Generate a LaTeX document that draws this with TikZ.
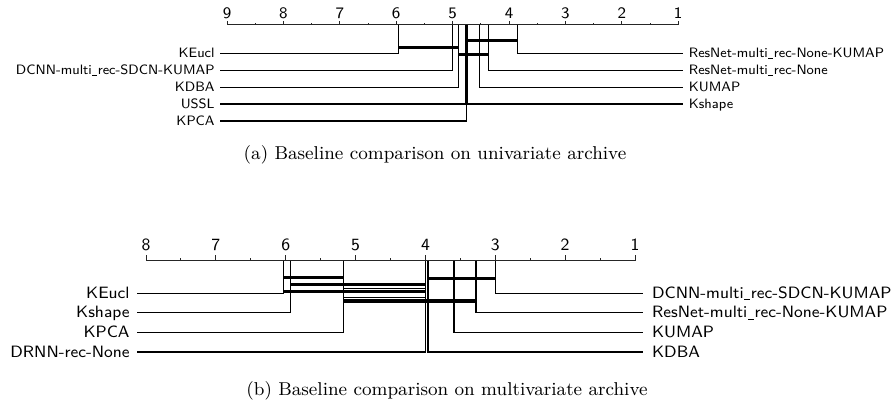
\documentclass[tikz,border=0pt]{standalone}
\newcommand{\usc}{\kern0.04em\rule[-0.12em]{0.36em}{0.05em}\kern0.04em}
\begin{document}
\begin{tikzpicture}[x=0.5pt,y=-0.5pt,
  axisline/.style={line width=0.45pt, draw=black!85},
  tickmark/.style={line width=0.45pt, draw=black!85},
  rowline/.style={line width=0.75pt},
  clique/.style={line width=1.7pt},
  thinclique/.style={line width=0.5pt},
  numA/.style={font=\sffamily\fontsize{8}{9}\selectfont, inner sep=0pt, anchor=base},
  numB/.style={font=\sffamily\fontsize{8.6}{10}\selectfont, inner sep=0pt, anchor=base},
  lblAL/.style={font=\sffamily\fontsize{6.8}{8}\selectfont, inner sep=0pt, anchor=base east},
  lblAR/.style={font=\sffamily\fontsize{6.8}{8}\selectfont, inner sep=0pt, anchor=base west},
  lblBL/.style={font=\sffamily\fontsize{8.2}{9}\selectfont, inner sep=0pt, anchor=base east},
  lblBR/.style={font=\sffamily\fontsize{8.2}{9}\selectfont, inner sep=0pt, anchor=base west},
  caption/.style={font=\rmfamily\fontsize{9.3}{11}\selectfont, inner sep=0pt}
]
\useasboundingbox (0,0) rectangle (893,412);

% ================= (a) =================
\coordinate (axA1) at (227,24.5);
\coordinate (axA2) at (678.2,24.5);
\draw[axisline] (axA1) -- (axA2);
\foreach \i in {0,...,8}{
  \pgfmathsetmacro{\xx}{227+\i*56.4}
  \pgfmathtruncatemacro{\lab}{9-\i}
  \coordinate (tka\i) at (\xx,24.5);
  \coordinate (tkat\i) at (\xx,21);
  \draw[tickmark] (tka\i) -- (tkat\i);
  \node[numA] (nua\i) at (\xx,18.3) {\lab};
}
\foreach \i in {0,...,7}{
  \pgfmathsetmacro{\xx}{227+28.2+\i*56.4}
  \coordinate (hka\i) at (\xx,24.5);
  \coordinate (hkat\i) at (\xx,22.8);
  \draw[tickmark] (hka\i) -- (hkat\i);
}

% left methods
\node[lblAL] (laKEucl) at (215,57.5) {KEucl};
\node[lblAL] (laDCNN) at (215,74.5) {DCNN-multi\usc rec-SDCN-KUMAP};
\node[lblAL] (laKDBA) at (215,91.5) {KDBA};
\node[lblAL] (laUSSL) at (215,108.2) {USSL};
\node[lblAL] (laKPCA) at (215,125) {KPCA};
% right methods
\node[lblAR] (raRNK) at (688.5,57.5) {ResNet-multi\usc rec-None-KUMAP};
\node[lblAR] (raRNN) at (688.5,74.5) {ResNet-multi\usc rec-None};
\node[lblAR] (raKUMAP) at (688.5,91.5) {KUMAP};
\node[lblAR] (raKshape) at (688.5,108.2) {Kshape};

% vertical tops and row ends
\coordinate (vaKEucl) at (398.3,24.5);  \coordinate (eaKEucl) at (220,53.5);
\coordinate (vaDCNN) at (452.3,24.5);   \coordinate (eaDCNN) at (220,70.5);
\coordinate (vaKDBA) at (458.3,24.5);   \coordinate (eaKDBA) at (220,87.5);
\coordinate (vaUSSL) at (466.2,24.5);   \coordinate (eaUSSL) at (220,104.2);
\coordinate (vaKPCA) at (466.7,24.5);   \coordinate (eaKPCA) at (220,121);
\coordinate (vaRNK) at (517.7,24.5);    \coordinate (eaRNK) at (683,53.5);
\coordinate (vaRNN) at (488.7,24.5);    \coordinate (eaRNN) at (683,70.5);
\coordinate (vaKUMAP) at (479.7,24.5);  \coordinate (eaKUMAP) at (683,87.5);
\coordinate (vaKshape) at (467.4,24.5); \coordinate (eaKshape) at (683,104.2);

\foreach \m in {KEucl,DCNN,KDBA,USSL,KPCA,RNK,RNN,KUMAP,Kshape}{
  \draw[rowline] (va\m) |- (ea\m);
}

% cliques (a)
\coordinate (ca1s) at (466.2,40.5); \coordinate (ca1e) at (517.7,40.5);
\coordinate (ca2s) at (398.3,47.5); \coordinate (ca2e) at (458.3,47.5);
\coordinate (ca3s) at (458.3,54.5); \coordinate (ca3e) at (488.7,54.5);
\draw[clique] (ca1s) -- (ca1e);
\draw[clique] (ca2s) -- (ca2e);
\draw[clique] (ca3s) -- (ca3e);

\node[caption] (capA) at (435,155) {(a) Baseline comparison on univariate archive};

% ================= (b) =================
\coordinate (axB1) at (146,260.5);
\coordinate (axB2) at (635,260.5);
\draw[axisline] (axB1) -- (axB2);
\foreach \i in {0,...,7}{
  \pgfmathsetmacro{\xx}{146+\i*69.857}
  \pgfmathtruncatemacro{\lab}{8-\i}
  \coordinate (tkb\i) at (\xx,260.5);
  \coordinate (tkbt\i) at (\xx,255.2);
  \draw[tickmark] (tkb\i) -- (tkbt\i);
  \node[numB] (nub\i) at (\xx,250) {\lab};
}
\foreach \i in {0,...,6}{
  \pgfmathsetmacro{\xx}{146+34.93+\i*69.857}
  \coordinate (hkb\i) at (\xx,260.5);
  \coordinate (hkbt\i) at (\xx,257.8);
  \draw[tickmark] (hkb\i) -- (hkbt\i);
}

\node[lblBL] (lbKEucl) at (130,298.3) {KEucl};
\node[lblBL] (lbKshape) at (130,317.7) {Kshape};
\node[lblBL] (lbKPCA) at (130,337.3) {KPCA};
\node[lblBL] (lbDRNN) at (130,357.2) {DRNN-rec-None};
\node[lblBR] (rbDCNN) at (651.7,298.3) {DCNN-multi\usc rec-SDCN-KUMAP};
\node[lblBR] (rbRN) at (651.7,317.7) {ResNet-multi\usc rec-None-KUMAP};
\node[lblBR] (rbKUMAP) at (651.7,337.3) {KUMAP};
\node[lblBR] (rbKDBA) at (651.7,357.2) {KDBA};

\coordinate (vbKEucl) at (283.5,260.5);  \coordinate (ebKEucl) at (136.7,293.3);
\coordinate (vbKshape) at (290.5,260.5); \coordinate (ebKshape) at (136.7,312.7);
\coordinate (vbKPCA) at (343.3,260.5);   \coordinate (ebKPCA) at (136.7,332.3);
\coordinate (vbDRNN) at (425.5,260.5);   \coordinate (ebDRNN) at (136.7,352.2);
\coordinate (vbDCNN) at (495.3,260.5);   \coordinate (ebDCNN) at (643,293.3);
\coordinate (vbRN) at (475.8,260.5);     \coordinate (ebRN) at (643,312.7);
\coordinate (vbKUMAP) at (454.2,260.5);  \coordinate (ebKUMAP) at (643,332.3);
\coordinate (vbKDBA) at (427.8,260.5);   \coordinate (ebKDBA) at (643,352.2);

\foreach \m in {KEucl,Kshape,KPCA,DRNN,DCNN,RN,KUMAP,KDBA}{
  \draw[rowline] (vb\m) |- (eb\m);
}

% cliques (b)
\coordinate (cb1s) at (283.5,277.5); \coordinate (cb1e) at (343.3,277.5);
\coordinate (cb2s) at (427.8,278.5); \coordinate (cb2e) at (495.3,278.5);
\coordinate (cb3s) at (290.5,284.5); \coordinate (cb3e) at (425.5,284.5);
\coordinate (cb4s) at (283.5,291.5); \coordinate (cb4e) at (425.5,291.5);
\coordinate (cb5s) at (343.3,301);   \coordinate (cb5e) at (475.8,301);
\coordinate (cb6s) at (343.3,288.3); \coordinate (cb6e) at (425.5,288.3);
\coordinate (cb7s) at (343.3,297.5); \coordinate (cb7e) at (425.5,297.5);
\draw[clique] (cb1s) -- (cb1e);
\draw[clique] (cb2s) -- (cb2e);
\draw[clique] (cb3s) -- (cb3e);
\draw[clique] (cb4s) -- (cb4e);
\draw[clique] (cb5s) -- (cb5e);
\draw[thinclique] (cb6s) -- (cb6e);
\draw[thinclique] (cb7s) -- (cb7e);

\node[caption] (capB) at (447,391) {(b) Baseline comparison on multivariate archive};
\end{tikzpicture}
\end{document}
